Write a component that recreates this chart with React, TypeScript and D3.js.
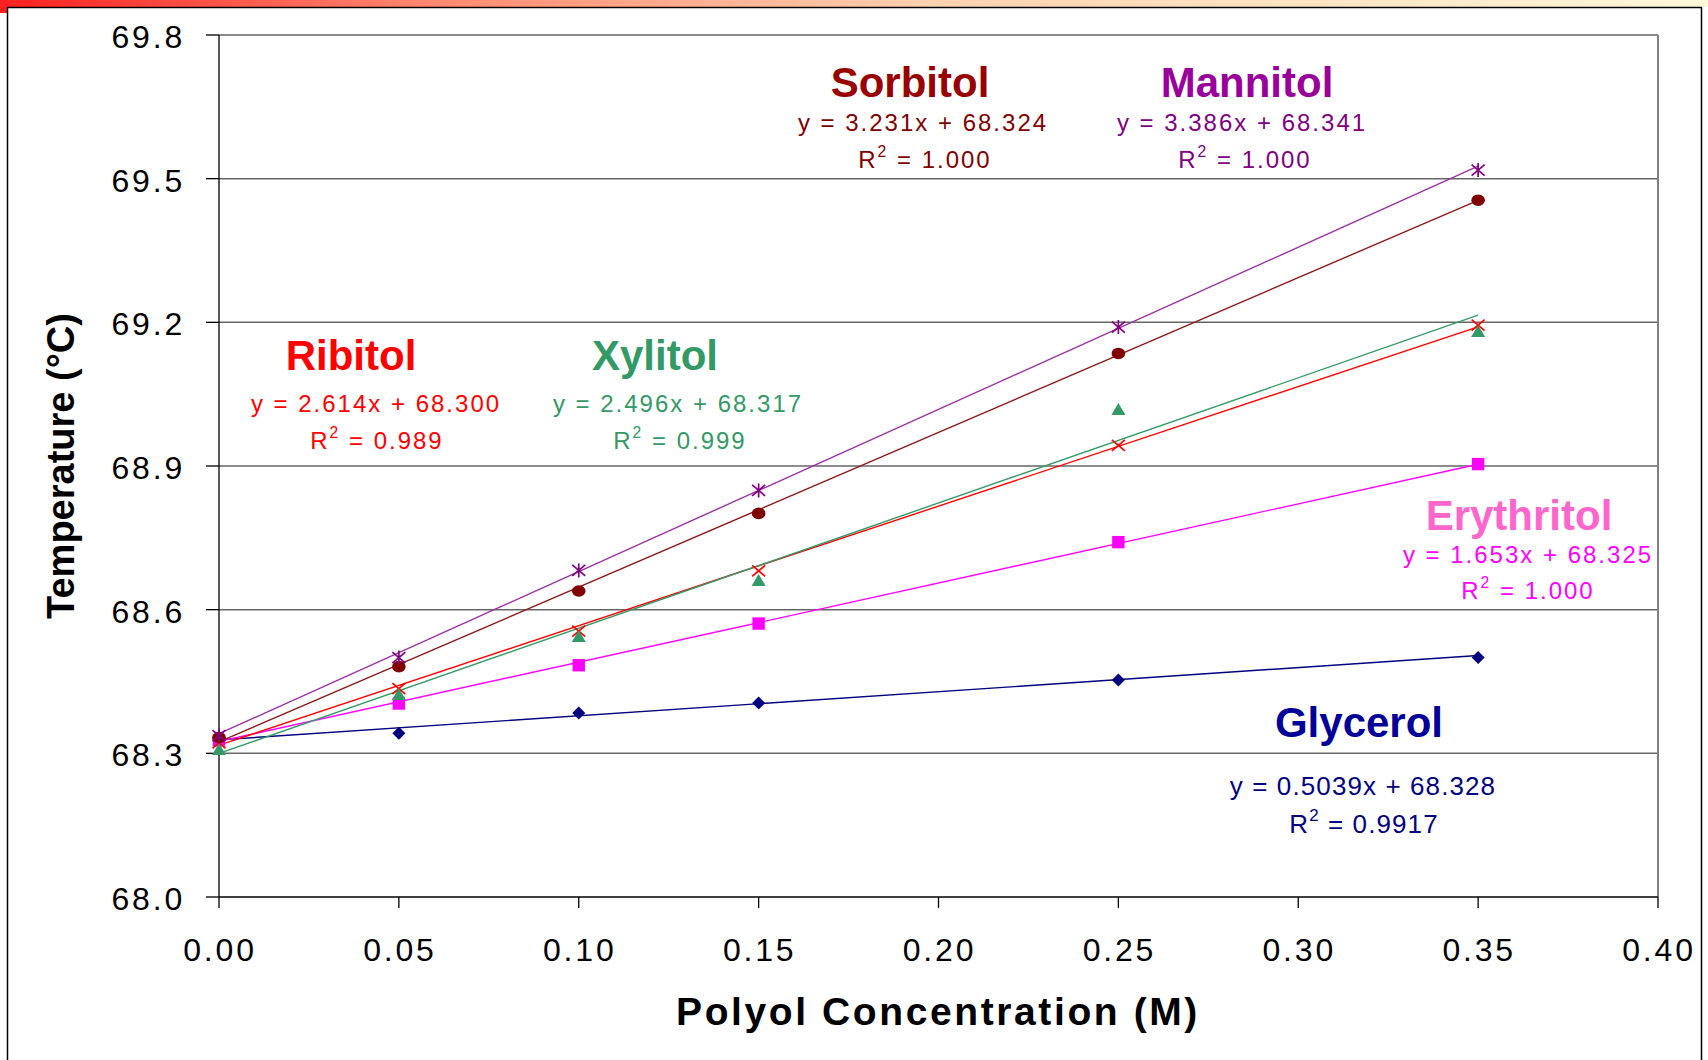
import React from "react";
import * as d3 from "d3";

const W = 1708;
const H = 1060;
const margin = { top: 35, right: 50, bottom: 163, left: 219 };

const concentrations = [0, 0.05, 0.1, 0.15, 0.25, 0.35];

const seriesNames = ["Glycerol", "Erythritol", "Ribitol", "Xylitol", "Sorbitol", "Mannitol"];
const glycerol = [68.328, 68.342, 68.384, 68.405, 68.453, 68.5];
const erythritol = [68.327, 68.404, 68.484, 68.571, 68.741, 68.904];
const ribitol = [68.322, 68.435, 68.555, 68.681, 68.943, 69.194];
const xylitol = [68.308, 68.423, 68.544, 68.661, 69.018, 69.181];
const sorbitol = [68.333, 68.481, 68.639, 68.801, 69.135, 69.455];
const mannitol = [68.337, 68.5, 68.682, 68.849, 69.19, 69.518];
const seriesValues = [glycerol, erythritol, ribitol, xylitol, sorbitol, mannitol];

// trendlines as they are drawn (slope, intercept)
const fitSlopes = [0.5039, 1.653, 2.496, 2.614, 3.231, 3.386];
const fitIntercepts = [68.328, 68.325, 68.317, 68.3, 68.324, 68.341];

const equationTexts = [
  "y = 0.5039x + 68.328",
  "y = 1.653x + 68.325",
  "y = 2.614x + 68.300",
  "y = 2.496x + 68.317",
  "y = 3.231x + 68.324",
  "y = 3.386x + 68.341",
];
const r2Texts = ["0.9917", "1.000", "0.989", "0.999", "1.000", "1.000"];

const markerColors = ["#000080", "#FF00FF", "#FF0000", "#339966", "#800000", "#800080"];
const lineColors = ["#000080", "#FF00FF", "#FF0000", "#339966", "#8B1A1A", "#9933A0"];
const nameColors = ["#000099", "#FF66CC", "#FF0000", "#339966", "#990000", "#990099"];
const eqColors = ["#000080", "#FF00FF", "#FF0000", "#339966", "#800000", "#800080"];
const markerKinds = ["diamond", "square", "x", "triangle", "circle", "star"];

// label anchor positions (pixels): name, equation, r2
const labelPos = [
  { nx: 1359, ex: 1363, rx: 1364, name: 737, eq: 795, r2: 833, big: true },
  { nx: 1519, ex: 1528, rx: 1528, name: 530, eq: 563, r2: 599, big: false },
  { nx: 351, ex: 376, rx: 377, name: 370, eq: 412, r2: 449, big: false },
  { nx: 655, ex: 678, rx: 680, name: 370, eq: 412, r2: 449, big: false },
  { nx: 910, ex: 923, rx: 925, name: 97, eq: 131, r2: 168, big: false },
  { nx: 1247, ex: 1242, rx: 1245, name: 97, eq: 131, r2: 168, big: false },
];

const yTicks = [68.0, 68.3, 68.6, 68.9, 69.2, 69.5, 69.8];
const xTicks = [0, 0.05, 0.1, 0.15, 0.2, 0.25, 0.3, 0.35, 0.4];

const FONT = "'Liberation Sans', Arial, sans-serif";

function Marker({ kind, color }: { kind: string; color: string }) {
  if (kind === "diamond") return <path d="M0,-6.5L6.5,0L0,6.5L-6.5,0Z" fill={color} />;
  if (kind === "square") return <rect x={-6.2} y={-6.2} width={12.4} height={12.4} fill={color} />;
  if (kind === "triangle") return <path d="M0,-6.5L7,5.5L-7,5.5Z" fill={color} />;
  if (kind === "circle") return <ellipse rx={6.8} ry={5.8} fill={color} />;
  if (kind === "x")
    return <path d="M-6.5,-5.5L6.5,5.5M-6.5,5.5L6.5,-5.5" stroke={color} strokeWidth={1.7} fill="none" />;
  return (
    <path d="M-6.5,-5.5L6.5,5.5M-6.5,5.5L6.5,-5.5M0,-7L0,7" stroke={color} strokeWidth={1.7} fill="none" />
  );
}

export default function App() {
  const x = d3.scaleLinear().domain([0, 0.4]).range([margin.left, W - margin.right]);
  const y = d3.scaleLinear().domain([68.0, 69.8]).range([H - margin.bottom, margin.top]);

  return (
    <svg width={W} height={H} style={{ position: "absolute", left: 0, top: 0, display: "block" }}>
      <defs>
        <linearGradient id="topbar" x1="0" x2="1" y1="0" y2="0">
          <stop offset="0" stopColor="#FF2020" />
          <stop offset="0.25" stopColor="#FF8870" />
          <stop offset="0.55" stopColor="#FFD2B0" />
          <stop offset="1" stopColor="#FFF8D8" />
        </linearGradient>
      </defs>
      <rect x={0} y={0} width={W} height={H} fill="#fff" />
      <rect x={0} y={0} width={W} height={7} fill="url(#topbar)" />
      <rect x={0} y={0} width={7} height={13} fill="#FF2020" />
      <path d={`M7.5,${H + 2}V7.5H1701.5V${H + 2}`} fill="none" stroke="#000" strokeWidth={1.5} />

      {/* gridlines */}
      {yTicks.slice(1).map((t) => (
        <line key={t} x1={x(0)} x2={x(0.4)} y1={y(t)} y2={y(t)} stroke="#666" strokeWidth={1.5} />
      ))}
      <line x1={x(0.4)} x2={x(0.4)} y1={y(69.8)} y2={y(68)} stroke="#808080" strokeWidth={2} />

      {/* axes */}
      <line x1={x(0)} x2={x(0)} y1={y(69.8)} y2={y(68)} stroke="#000" strokeWidth={1.3} />
      <line x1={x(0)} x2={x(0.4)} y1={y(68)} y2={y(68)} stroke="#000" strokeWidth={1.3} />
      {yTicks.map((t) => (
        <g key={t}>
          <line x1={x(0) - 13} x2={x(0)} y1={y(t)} y2={y(t)} stroke="#000" strokeWidth={1.3} />
          <text
            x={185}
            y={y(t) + 13}
            textAnchor="end"
            fontFamily={FONT}
            fontSize={32}
            letterSpacing={2.8}
            fill="#000"
          >
            {t.toFixed(1)}
          </text>
        </g>
      ))}
      {xTicks.map((t) => (
        <g key={t}>
          <line x1={x(t)} x2={x(t)} y1={y(68)} y2={y(68) + 11} stroke="#000" strokeWidth={1.3} />
          <text
            x={x(t) + 1}
            y={961}
            textAnchor="middle"
            fontFamily={FONT}
            fontSize={32}
            letterSpacing={2.8}
            fill="#000"
          >
            {t.toFixed(2)}
          </text>
        </g>
      ))}

      <text
        x={938}
        y={1025}
        textAnchor="middle"
        fontFamily={FONT}
        fontWeight="bold"
        fontSize={39}
        letterSpacing={2.6}
        fill="#000"
      >
        Polyol Concentration (M)
      </text>
      <text
        transform="translate(74,466) rotate(-90)"
        textAnchor="middle"
        fontFamily={FONT}
        fontWeight="bold"
        fontSize={38}
        letterSpacing={0}
        fill="#000"
      >
        Temperature (°C)
      </text>

      {/* trendlines */}
      {seriesNames.map((name, i) => {
        const ends = [0, 0.35];
        const path = d3
          .line<number>()
          .x((d) => x(d))
          .y((d) => y(fitSlopes[i] * d + fitIntercepts[i]))(ends);
        return <path key={name} d={path || ""} stroke={lineColors[i]} strokeWidth={1.4} fill="none" />;
      })}

      {/* markers */}
      {seriesNames.map((name, i) => (
        <g key={name}>
          {seriesValues[i].map((v, j) => (
            <g key={j} transform={`translate(${x(concentrations[j])},${y(v)})`}>
              <Marker kind={markerKinds[i]} color={markerColors[i]} />
            </g>
          ))}
        </g>
      ))}

      {/* labels */}
      {seriesNames.map((name, i) => {
        const p = labelPos[i];
        const fs = p.big ? 26 : 24;
        const ls = p.big ? 1.1 : 2;
        return (
          <g key={name} fontFamily={FONT} textAnchor="middle">
            <text x={p.nx} y={p.name} fontSize={42} fontWeight="bold" fill={nameColors[i]}>
              {name}
            </text>
            <text x={p.ex} y={p.eq} fontSize={fs} letterSpacing={ls} fill={eqColors[i]}>
              {equationTexts[i]}
            </text>
            <text x={p.rx} y={p.r2} fontSize={fs} letterSpacing={ls} fill={eqColors[i]}>
              R
              <tspan fontSize={fs * 0.65} dy={-fs * 0.45}>
                2
              </tspan>
              <tspan dy={fs * 0.45}>{" = " + r2Texts[i]}</tspan>
            </text>
          </g>
        );
      })}
    </svg>
  );
}
